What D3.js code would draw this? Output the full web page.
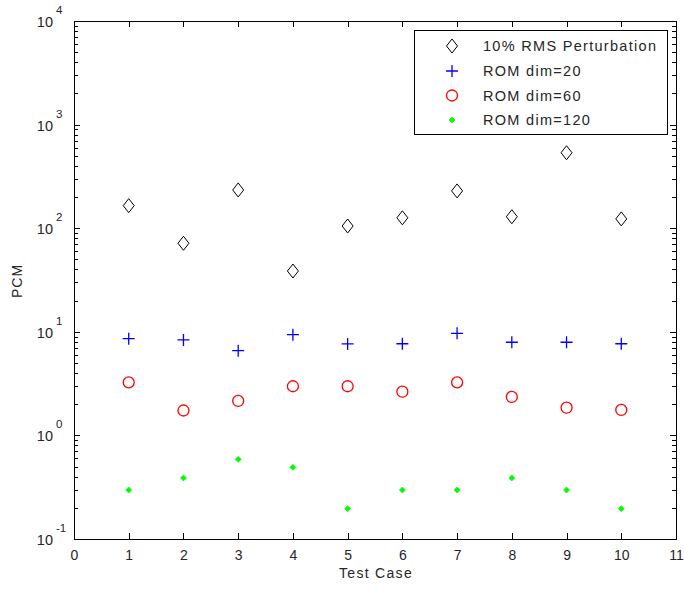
<!DOCTYPE html>
<html><head><meta charset="utf-8">
<script src="https://cdn.jsdelivr.net/npm/d3@7"></script>
<style>body{margin:0;background:#fff}svg{display:block}text{font-family:"Liberation Sans",Arial,sans-serif}</style>
</head><body>
<script>
const cases = [1,2,3,4,5,6,7,8,9,10];
const rmsPert = [165, 71.5, 234, 38.6, 105, 126, 229, 129, 535, 123];
const rom20 = [8.59, 8.34, 6.58, 9.38, 7.63, 7.67, 9.66, 7.93, 7.93, 7.67];
const rom60 = [3.25, 1.74, 2.15, 2.98, 2.98, 2.64, 3.25, 2.35, 1.85, 1.76];
const rom120 = [0.297, 0.388, 0.587, 0.492, 0.196, 0.297, 0.297, 0.388, 0.297, 0.196];
const xTicks = [0,1,2,3,4,5,6,7,8,9,10,11];
const yExps = [-1,0,1,2,3,4];
const legendLabels = ["10% RMS Perturbation","ROM dim=20","ROM dim=60","ROM dim=120"];

const W=684,H=592;
const L=74,R=676,T=21,B=539;
const svg=d3.select("body").append("svg").attr("width",W).attr("height",H);
const x=d3.scaleLinear().domain([0,11]).range([L,R]);
const y=d3.scaleLog().domain([0.1,10000]).range([B,T]);
const TXT="#262626";

const minor=[];
for(let e=-1;e<4;e++) for(let m=2;m<=9;m++) minor.push(m*Math.pow(10,e));

const g=svg.append("g");
g.append("rect").attr("x",L+0.5).attr("y",T+0.5).attr("width",R-L).attr("height",B-T).attr("fill","none").attr("stroke","#000").attr("stroke-width",1);

const tk=g.append("g").attr("stroke","#000").attr("stroke-width",1);
yExps.forEach(e=>{const yy=Math.round(y(Math.pow(10,e)))+0.5;
  tk.append("line").attr("x1",L).attr("x2",L+6).attr("y1",yy).attr("y2",yy);
  tk.append("line").attr("x1",R).attr("x2",R-6).attr("y1",yy).attr("y2",yy);});
minor.forEach(v=>{const yy=Math.round(y(v))+0.5;
  tk.append("line").attr("x1",L).attr("x2",L+4).attr("y1",yy).attr("y2",yy);
  tk.append("line").attr("x1",R).attr("x2",R-4).attr("y1",yy).attr("y2",yy);});
xTicks.forEach(v=>{const xx=Math.round(x(v))+0.5;
  tk.append("line").attr("x1",xx).attr("x2",xx).attr("y1",B).attr("y2",B-6);
  tk.append("line").attr("x1",xx).attr("x2",xx).attr("y1",T).attr("y2",T+6);});

g.selectAll(".xl").data(xTicks).enter().append("text").attr("x",d=>x(d)+0.5).attr("y",B+21)
  .attr("text-anchor","middle").attr("font-size",14).attr("letter-spacing",0).attr("fill",TXT).text(d=>d);
yExps.forEach(e=>{
  const yy=y(Math.pow(10,e));
  g.append("text").attr("x",L-21).attr("y",yy+6).attr("text-anchor","end").attr("font-size",14.5).attr("fill",TXT).text("10");
  g.append("text").attr("x",L-18).attr("y",yy-7).attr("font-size",11.5).attr("fill",TXT).text(e);
});
g.append("text").attr("x",(L+R)/2+1).attr("y",578).attr("text-anchor","middle").attr("font-size",14).attr("letter-spacing",1.3).attr("fill",TXT).text("Test Case");
g.append("text").attr("transform",`translate(22,281) rotate(-90)`).attr("text-anchor","middle").attr("font-size",14).attr("letter-spacing",1).attr("fill",TXT).text("PCM");

function diamond(sel,cx,cy){sel.append("path").attr("d",`M${cx},${cy-7}L${cx+5.5},${cy}L${cx},${cy+7}L${cx-5.5},${cy}Z`).attr("fill","none").attr("stroke","#000").attr("stroke-width",1);}
function plus(sel,cx,cy){sel.append("path").attr("d",`M${cx-6},${cy}H${cx+6}M${cx},${cy-6}V${cy+6}`).attr("stroke","#0000ff").attr("stroke-width",1.3).attr("fill","none");}
function circ(sel,cx,cy){sel.append("circle").attr("cx",cx).attr("cy",cy).attr("r",5.5).attr("fill","none").attr("stroke","#ff0000").attr("stroke-width",1.3);}
function dot(sel,cx,cy){sel.append("path").attr("d",`M${cx},${cy-3}L${cx+3},${cy}L${cx},${cy+3}L${cx-3},${cy}Z`).attr("fill","#00ff00").attr("stroke","#00ee00").attr("stroke-width",0.6);}
const mk=svg.append("g");
cases.forEach((c,i)=>{
  diamond(mk,x(c),y(rmsPert[i]));
  plus(mk,x(c),y(rom20[i]));
  circ(mk,x(c),y(rom60[i]));
  dot(mk,x(c),y(rom120[i]));
});

const lg=svg.append("g");
lg.append("rect").attr("x",414.5).attr("y",30.5).attr("width",253).attr("height",104).attr("fill","#fff").attr("stroke","#000").attr("stroke-width",1);
const fns=[diamond,plus,circ,dot];
const rows=[46,71,95.5,120];
legendLabels.forEach((lab,i)=>{
  fns[i](lg,452,rows[i]);
  lg.append("text").attr("x",483).attr("y",rows[i]+5).attr("font-size",14.5).attr("letter-spacing",1.3).attr("fill",TXT).text(lab);
});
</script>
</body></html>
